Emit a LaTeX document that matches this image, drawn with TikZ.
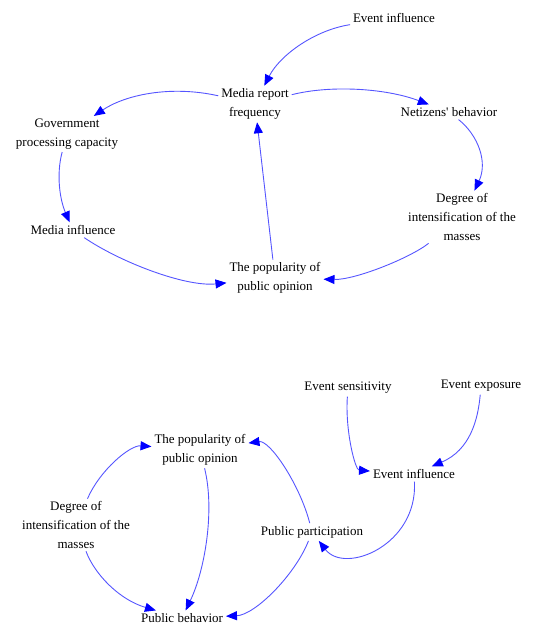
\documentclass[tikz,border=0pt]{standalone}
\usepackage{fontspec}
\setmainfont{Liberation Serif}
\usetikzlibrary{arrows.meta}
\definecolor{lnblue}{RGB}{85,85,255}
\begin{document}
\begin{tikzpicture}[x=1pt,y=-1pt,
  lbl/.style={align=center, inner sep=3pt, outer sep=0pt, text=black,
    font=\fontsize{13}{18.7}\selectfont},
  conn/.style={draw=lnblue, line width=0.9pt,
    -{Triangle[length=11pt,width=9pt,color=blue]}}]
\useasboundingbox (0,0) rectangle (556,625);
% top diagram
\node[lbl] (evinfA) at (394,18) {Event influence};
\node[lbl] (mrf) at (255,104) {Media report\\frequency};
\node[lbl] (net) at (449,112) {Netizens\textquotesingle\ behavior};
\node[lbl] (gov) at (67,134) {Government\\processing capacity};
\node[lbl] (medinf) at (73,230) {Media influence};
\node[lbl] (degA) at (462,217) {Degree of\\intensification of the\\masses};
\node[lbl] (popA) at (275,278) {The popularity of\\public opinion};
% bottom diagram
\node[lbl] (evsens) at (348,388) {Event sensitivity};
\node[lbl] (evexp) at (481,386) {Event exposure};
\node[lbl] (evinfB) at (414,474) {Event influence};
\node[lbl] (popB) at (200,450) {The popularity of\\public opinion};
\node[lbl] (degB) at (76,525) {Degree of\\intensification of the\\masses};
\node[lbl] (pubpart) at (312,532) {Public participation};
\node[lbl] (pubbeh) at (182,618) {Public behavior};
% top connectors
\draw[conn] (evinfA) .. controls (315,30) and (280,55) .. (mrf);
\draw[conn] (mrf) .. controls (170,85) and (125,95) .. (gov);
\draw[conn] (mrf) .. controls (330,85) and (385,88) .. (net);
\draw[conn] (net) .. controls (478,135) and (488,162) .. (degA);
\draw[conn] (gov) .. controls (56,175) and (60,200) .. (medinf);
\draw[conn] (medinf) .. controls (120,262) and (185,287) .. (popA);
\draw[conn] (degA) .. controls (410,258) and (355,280) .. (popA);
\draw[conn] (popA) -- (mrf);
% bottom connectors
\draw[conn] (evsens) .. controls (345,430) and (355,470) .. (evinfB);
\draw[conn] (evexp) .. controls (478,420) and (470,450) .. (evinfB);
\draw[conn] (evinfB) .. controls (418,545) and (345,575) .. (pubpart);
\draw[conn] (pubpart) .. controls (300,485) and (270,440) .. (popB);
\draw[conn] (pubpart) .. controls (295,575) and (255,615) .. (pubbeh);
\draw[conn] (degB) .. controls (100,470) and (130,445) .. (popB);
\draw[conn] (degB) .. controls (95,575) and (120,600) .. (pubbeh);
\draw[conn] (popB) .. controls (215,510) and (205,570) .. (pubbeh);
\end{tikzpicture}
\end{document}
